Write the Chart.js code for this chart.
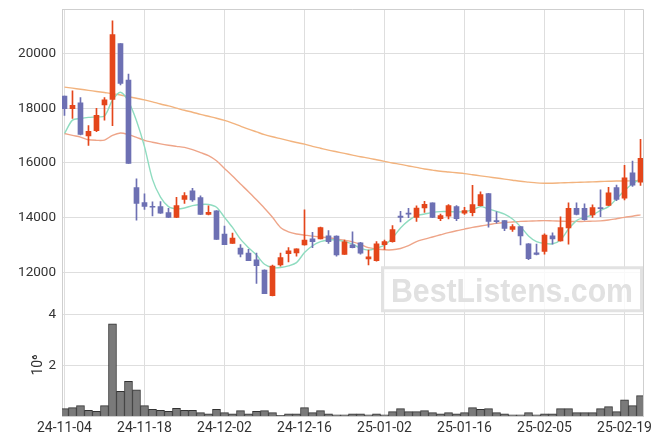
<!DOCTYPE html>
<html>
<head>
<meta charset="utf-8">
<script src="https://cdn.jsdelivr.net/npm/chart.js@4.4.1/dist/chart.umd.min.js"></script>
<style>
  html, body { margin: 0; padding: 0; background: #fff; }
  canvas { display: block; }
</style>
</head>
<body>
<canvas id="stockChart" width="663" height="444"></canvas>
<script>
const dates = [
  "24-11-04", "24-11-05", "24-11-06", "24-11-07", "24-11-08", "24-11-11", "24-11-12", "24-11-13", "24-11-14", "24-11-15",
  "24-11-18", "24-11-19", "24-11-20", "24-11-21", "24-11-22", "24-11-25", "24-11-26", "24-11-27", "24-11-28", "24-11-29",
  "24-12-02", "24-12-03", "24-12-04", "24-12-05", "24-12-06", "24-12-09", "24-12-10", "24-12-11", "24-12-12", "24-12-13",
  "24-12-16", "24-12-17", "24-12-18", "24-12-19", "24-12-20", "24-12-23", "24-12-24", "24-12-26", "24-12-27", "24-12-30",
  "25-01-02", "25-01-03", "25-01-06", "25-01-07", "25-01-08", "25-01-09", "25-01-10", "25-01-13", "25-01-14", "25-01-15",
  "25-01-16", "25-01-17", "25-01-20", "25-01-21", "25-01-22", "25-01-23", "25-01-24", "25-01-31", "25-02-03", "25-02-04",
  "25-02-05", "25-02-06", "25-02-07", "25-02-10", "25-02-11", "25-02-12", "25-02-13", "25-02-14", "25-02-17", "25-02-18",
  "25-02-19", "25-02-20", "25-02-21"
];

const opens = [
  18450, 17990, 18200, 16990, 17180, 18130, 18330, 20370, 19040, 15100,
  14550, 14400, 14400, 14180, 14010, 14670, 14980, 14730, 14120, 14250,
  13400, 13050, 12880, 12700, 12450, 12080, 11140, 12270, 12680, 12710,
  13000, 13220, 13220, 13330, 13320, 12650, 13000, 13080, 12490, 12420,
  13010, 13120, 14060, 14170, 14010, 14350, 14540, 13960, 14050, 14400,
  14160, 14180, 14440, 14880, 13890, 13890, 13570, 13670, 13040, 12710,
  12760, 13330, 13150, 13620, 14340, 14340, 14100, 14370, 14450, 15100,
  14710, 15640, 15300
];
const highs = [
  18450, 18640, 18400, 17370, 18000, 18400, 21210, 20370, 19260, 15420,
  14870, 14580, 14590, 14340, 14740, 14920, 15070, 14800, 14430, 14260,
  13690, 13430, 13010, 12840, 12700, 12090, 12260, 12700, 12900, 12860,
  14280, 13460, 13650, 13520, 13330, 13180, 13480, 13090, 12810, 13120,
  13180, 13710, 14230, 14340, 14430, 14600, 14540, 14130, 14480, 14440,
  14380, 15180, 14940, 14890, 14210, 13890, 13740, 13670, 13050, 13030,
  13410, 13440, 14030, 14540, 14540, 14500, 14470, 15020, 15110, 15190,
  15910, 16070, 16870
];
const lows = [
  17740, 17630, 17030, 16640, 17150, 17570, 17370, 18860, 15980, 13910,
  14300, 14060, 14150, 14000, 14000, 14520, 14590, 14110, 14100, 13200,
  13010, 13050, 12560, 12420, 11590, 11210, 11130, 12220, 12380, 12590,
  12990, 12900, 13220, 13050, 12590, 12650, 12890, 12660, 12270, 12400,
  12830, 13100, 13840, 14000, 13860, 14190, 14000, 13890, 13950, 13890,
  14120, 14060, 14430, 13650, 13800, 13520, 13490, 13000, 12460, 12630,
  12660, 13030, 13140, 13030, 14100, 13910, 14010, 14030, 14440, 14620,
  14650, 15140, 15180
];
const closes = [
  17990, 18110, 17050, 17160, 17750, 18310, 20700, 18910, 15980, 14520,
  14410, 14380, 14160, 14010, 14440, 14810, 14650, 14120, 14190, 13200,
  13010, 13250, 12660, 12420, 12240, 11210, 12220, 12540, 12780, 12860,
  13180, 13120, 13630, 13120, 12630, 13110, 12900, 12700, 12560, 13040,
  13120, 13560, 14010, 14130, 14350, 14490, 14010, 14070, 14440, 13960,
  14260, 14480, 14840, 13860, 13850, 13600, 13670, 13330, 12500, 12650,
  13360, 13220, 13630, 14340, 14120, 13920, 14370, 14330, 14910, 14670,
  15460, 15190, 16170
];

const ma5 = [
  17080, 17570, 17630, 17670, 17690, 17720, 18300, 18590, 18250, 17550,
  16600, 15400, 14750, 14400, 14320, 14350, 14440, 14480, 14480, 14380,
  14010, 13640, 13210, 12900, 12630, 12290, 12170, 12170, 12230, 12350,
  12720, 12970, 13120, 13180, 13180, 13120, 13030, 12880, 12810, 12880,
  12990, 13250, 13620, 13890, 14070, 14130, 14190, 14220, 14220, 14210,
  14220, 14280, 14400, 14320, 14230, 14130, 13950, 13670, 13330, 13120,
  13050, 13040, 13180, 13580, 13890, 14010, 14100, 14260, 14400, 14690,
  14990, 15240, 15420
];
const ma60 = [
  17080, 17010, 16950, 16850, 16830, 16840, 17010, 17100, 17040, 16940,
  16830, 16760, 16700, 16650, 16610, 16570, 16490, 16380, 16270, 16080,
  15800, 15520, 15230, 14950, 14650, 14340, 14010, 13640, 13480, 13400,
  13360, 13320, 13290, 13260, 13220, 13170, 13110, 13020, 12900, 12850,
  12820, 12820, 12870, 12970, 13120, 13210, 13290, 13370, 13450, 13520,
  13580, 13640, 13690, 13740, 13790, 13820, 13840, 13860, 13870, 13880,
  13890, 13880, 13870, 13860, 13860, 13860, 13870, 13880, 13910, 13960,
  14010, 14050, 14100
];
const ma120 = [
  18780, 18740, 18700, 18660, 18620, 18580, 18540, 18490, 18430, 18370,
  18310, 18240, 18160, 18090, 18010, 17930, 17860, 17780, 17710, 17640,
  17560, 17460, 17350, 17240, 17140, 17040, 16960, 16890, 16820, 16750,
  16690, 16610, 16540, 16470, 16410, 16350, 16290, 16230, 16180, 16120,
  16060, 16000, 15950, 15890, 15840, 15780, 15740, 15700, 15670, 15640,
  15610, 15570, 15530, 15490, 15450, 15410, 15370, 15330, 15300, 15270,
  15260, 15260, 15270, 15280, 15290, 15300, 15310, 15320, 15330, 15340,
  15340, 15350, 15360
];

const volumes = [
  290000, 330000, 410000, 220000, 180000, 410000, 3620000, 970000, 1360000, 1030000,
  410000, 260000, 220000, 180000, 300000, 220000, 220000, 130000, 90000, 260000,
  130000, 90000, 210000, 90000, 180000, 210000, 130000, 30000, 90000, 90000,
  330000, 130000, 210000, 90000, 50000, 50000, 90000, 90000, 50000, 90000,
  50000, 170000, 290000, 170000, 170000, 210000, 130000, 90000, 130000, 90000,
  130000, 330000, 260000, 290000, 130000, 90000, 50000, 50000, 130000, 50000,
  90000, 90000, 290000, 290000, 130000, 130000, 130000, 290000, 370000, 170000,
  640000, 410000, 800000
];

const priceTicks = [12000, 14000, 16000, 18000, 20000];
const volumeTicks = [2000000, 4000000];
const dateTickIndexes = [0, 10, 20, 30, 40, 50, 60, 70];

const UP = "#e4461b";
const DOWN = "#6d70b3";
const FONT = "Roboto, sans-serif";

const candleColor = (ctx) => {
    const i = ctx.dataIndex;
    return closes[i] >= opens[i] ? UP : DOWN;
};

// y axes: fixed width, no extra label padding pushing the plot area
const fitY = (axis) => {
    axis.width = 62;
    axis.paddingTop = 0;
    axis.paddingBottom = 0;
};

const framePlugin = {
    id: "frame",
    beforeDatasetsDraw(chart) {
        const { ctx, chartArea: a } = chart;
        const bw = 259, bh = 43;
        const bx = a.right - bw - 1.5;
        const by = chart.scales.yv.top - bh - 3.5;
        ctx.save();
        ctx.fillStyle = "rgba(255,255,255,0.8)";
        ctx.fillRect(bx, by, bw, bh);
        ctx.strokeStyle = "#e2e2e2";
        ctx.lineWidth = 3;
        ctx.strokeRect(bx, by, bw, bh);
        ctx.fillStyle = "#e1e1e1";
        ctx.font = "bold 34px 'Liberation Sans', Arial, sans-serif";
        ctx.textAlign = "center";
        ctx.textBaseline = "alphabetic";
        ctx.fillText("BestListens.com", bx + bw / 2, by + bh - 8.5, 242);
        ctx.restore();
    },
    afterDraw(chart) {
        const { ctx, chartArea: a } = chart;
        ctx.save();
        ctx.strokeStyle = "#cfcfcf";
        ctx.lineWidth = 1;
        ctx.beginPath();
        ctx.moveTo(a.left, a.top + 0.5);
        ctx.lineTo(a.right + 0.5, a.top + 0.5);
        ctx.lineTo(a.right + 0.5, a.bottom);
        ctx.stroke();
        ctx.restore();
    }
};

const canvas = document.getElementById("stockChart");

new Chart(canvas.getContext("2d"), {
    data: {
        datasets: [
            {
                type: "line",
                label: "MA5",
                data: ma5.map((v, i) => ({ x: i, y: v })),
                borderColor: "#8fdcc0",
                borderWidth: 1.4,
                pointRadius: 0,
                tension: 0.3,
                yAxisID: "y",
                order: 3
            },
            {
                type: "line",
                label: "MA60",
                data: ma60.map((v, i) => ({ x: i, y: v })),
                borderColor: "#eea589",
                borderWidth: 1.4,
                pointRadius: 0,
                tension: 0.3,
                yAxisID: "y",
                order: 3
            },
            {
                type: "line",
                label: "MA120",
                data: ma120.map((v, i) => ({ x: i, y: v })),
                borderColor: "#f2b37e",
                borderWidth: 1.4,
                pointRadius: 0,
                tension: 0.3,
                yAxisID: "y",
                order: 3
            },
            {
                type: "bar",
                label: "wick",
                data: dates.map((d, i) => ({ x: i, y: [lows[i], highs[i]] })),
                backgroundColor: candleColor,
                barThickness: 1,
                grouped: false,
                yAxisID: "y",
                order: 1
            },
            {
                type: "bar",
                label: "body",
                data: dates.map((d, i) => ({ x: i, y: [opens[i], closes[i]] })),
                backgroundColor: candleColor,
                barThickness: 5,
                minBarLength: 1,
                grouped: false,
                yAxisID: "y",
                order: 0
            },
            {
                type: "bar",
                label: "volume",
                data: volumes.map((v, i) => ({ x: i, y: v })),
                backgroundColor: "#7a7a7a",
                borderColor: "#333333",
                borderWidth: 1,
                barPercentage: 1,
                categoryPercentage: 1,
                grouped: false,
                yAxisID: "yv",
                order: 4
            }
        ]
    },
    options: {
        responsive: false,
        animation: false,
        layout: { padding: { top: 9, right: 20, left: 0, bottom: 0 } },
        plugins: {
            legend: { display: false },
            tooltip: { enabled: false }
        },
        scales: {
            x: {
                type: "linear",
                offset: false,
                min: -0.31,
                max: 72.31,
                afterBuildTicks: (axis) => { axis.ticks = dateTickIndexes.map(v => ({ value: v })); },
                afterFit: (axis) => {
                    axis.height = 28;
                    axis.paddingLeft = 0;
                    axis.paddingRight = 0;
                },
                ticks: {
                    callback: (v) => dates[v],
                    color: "#333",
                    font: { family: FONT, size: 14 },
                    padding: 4,
                    maxRotation: 0,
                    autoSkip: false
                },
                grid: { color: "#dedede", drawTicks: false, offset: false },
                border: { color: "#cfcfcf" }
            },
            yv: {
                type: "linear",
                position: "left",
                stack: "panels",
                stackWeight: 1,
                min: 0,
                max: 4000000,
                afterBuildTicks: (axis) => { axis.ticks = volumeTicks.map(v => ({ value: v })); },
                afterFit: fitY,
                ticks: {
                    callback: (v) => String(v / 1000000),
                    color: "#333",
                    font: { family: FONT, size: 13.5 },
                    padding: 6
                },
                title: {
                    display: true,
                    text: "10⁶",
                    color: "#333",
                    font: { family: FONT, size: 14 },
                    padding: { top: 30, bottom: 0 }
                },
                grid: { color: "#dedede", drawTicks: false },
                border: { color: "#cfcfcf" }
            },
            y: {
                type: "linear",
                position: "left",
                stack: "panels",
                stackWeight: 3,
                min: 10460,
                max: 21640,
                afterBuildTicks: (axis) => { axis.ticks = priceTicks.map(v => ({ value: v })); },
                afterFit: fitY,
                ticks: {
                    callback: (v) => String(v),
                    color: "#333",
                    font: { family: FONT, size: 13.5 },
                    padding: 6
                },
                grid: { color: "#dedede", drawTicks: false },
                border: { color: "#cfcfcf" }
            }
        }
    },
    plugins: [framePlugin]
});
</script>
</body>
</html>
